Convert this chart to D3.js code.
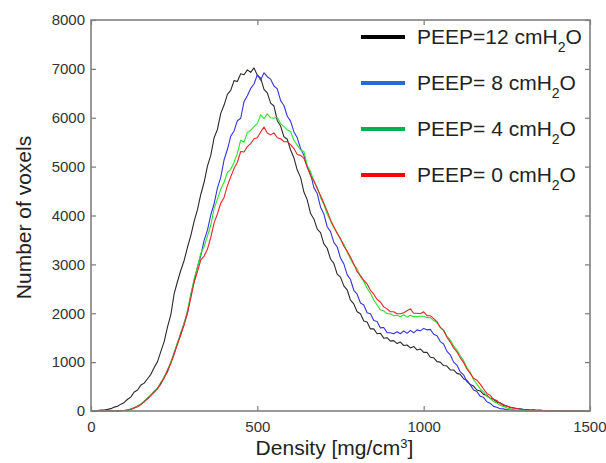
<!DOCTYPE html>
<html>
<head>
<meta charset="utf-8">
<script src="https://cdn.jsdelivr.net/npm/d3@7"></script>
<style>
  body { margin: 0; background: #fff; }
  text { font-family: "Liberation Sans", Arial, sans-serif; }
</style>
</head>
<body>
<div id="chart"></div>
<script>
// density bins (mg/cm3), one value every 10
var density = d3.range(0, 1510, 10);

var peep12 = [
  0, 4, 10, 18, 22, 34, 48, 80, 96, 140,
  176, 240, 290, 390, 430, 530, 570, 660, 750, 890,
  1010, 1220, 1420, 1720, 1970, 2400, 2650, 2880, 3080, 3350,
  3590, 3880, 4120, 4430, 4680, 5010, 5230, 5590, 5760, 6090,
  6260, 6480, 6560, 6760, 6740, 6900, 6880, 6980, 6930, 7020,
  6870, 6810, 6580, 6510, 6300, 6240, 5940, 5830, 5610, 5560,
  5340, 5180, 4930, 4780, 4480, 4320, 4040, 3930, 3720, 3650,
  3420, 3330, 3110, 3020, 2800, 2740, 2560, 2480, 2270, 2190,
  2030, 1990, 1840, 1820, 1680, 1680, 1580, 1590, 1490, 1500,
  1430, 1440, 1380, 1410, 1340, 1350, 1290, 1320, 1250, 1270,
  1200, 1200, 1100, 1090, 1010, 1000, 930, 920, 840, 840,
  770, 750, 660, 630, 540, 510, 430, 410, 340, 320,
  260, 240, 180, 170, 110, 105, 70, 68, 50, 46,
  36, 32, 22, 24, 16, 17, 10, 11, 7, 6,
  5, 3, 3, 2, 1, 1, 0, 0, 0, 0, 0
];

var peep8 = [
  0, 0, 0, 0, 0, 0, 0, 0, 2, 5,
  10, 18, 42, 66, 104, 136, 204, 250, 330, 380,
  470, 550, 700, 800, 1000, 1160, 1400, 1560, 1800, 2000,
  2380, 2660, 2950, 3180, 3490, 3700, 4010, 4240, 4560, 4780,
  5140, 5350, 5620, 5730, 5940, 5990, 6330, 6450, 6600, 6690,
  6880, 6770, 6920, 6840, 6790, 6650, 6590, 6350, 6250, 6030,
  5930, 5710, 5590, 5370, 5230, 4990, 4850, 4570, 4450, 4170,
  4030, 3770, 3670, 3450, 3360, 3130, 3010, 2790, 2690, 2470,
  2390, 2210, 2170, 2010, 1990, 1850, 1830, 1700, 1710, 1600,
  1600, 1580, 1620, 1580, 1640, 1590, 1650, 1600, 1660, 1640,
  1690, 1660, 1670, 1570, 1540, 1420, 1370, 1220, 1150, 1000,
  940, 800, 740, 600, 540, 430, 400, 300, 280, 190,
  160, 95, 78, 45, 44, 26, 22, 13, 11, 7,
  6, 4, 3, 3, 2, 2, 1, 1, 0, 0,
  0, 0, 0, 0, 0, 0, 0, 0, 0, 0, 0
];

var peep4 = [
  0, 0, 0, 0, 0, 0, 0, 0, 2, 5,
  10, 22, 38, 64, 98, 144, 196, 266, 324, 406,
  464, 590, 690, 850, 990, 1210, 1390, 1610, 1790, 2060,
  2370, 2710, 2940, 3230, 3360, 3580, 3800, 4140, 4330, 4540,
  4680, 4880, 4940, 5090, 5270, 5540, 5500, 5700, 5740, 5820,
  5880, 6060, 5980, 6080, 6000, 5990, 6010, 5880, 5820, 5750,
  5720, 5540, 5440, 5340, 5310, 5020, 4900, 4700, 4580, 4370,
  4230, 4030, 3890, 3750, 3650, 3510, 3410, 3250, 3110, 2990,
  2910, 2750, 2650, 2510, 2410, 2270, 2170, 2070, 2050, 1990,
  1990, 1950, 1960, 1930, 1970, 1920, 1960, 1930, 1930, 1940,
  1940, 1910, 1910, 1850, 1810, 1710, 1650, 1530, 1450, 1330,
  1250, 1130, 1030, 890, 790, 640, 550, 450, 390, 300,
  255, 195, 165, 115, 95, 60, 48, 28, 22, 14,
  10, 8, 6, 4, 3, 2, 2, 1, 1, 0,
  0, 0, 0, 0, 0, 0, 0, 0, 0, 0, 0
];

var peep0 = [
  0, 0, 0, 0, 0, 0, 0, 0, 2, 4,
  9, 20, 32, 62, 86, 134, 186, 256, 316, 396,
  454, 570, 670, 830, 970, 1180, 1360, 1580, 1760, 2010,
  2310, 2630, 2850, 3090, 3170, 3310, 3550, 3850, 4030, 4250,
  4370, 4610, 4790, 4960, 5090, 5310, 5300, 5410, 5470, 5570,
  5590, 5710, 5810, 5690, 5650, 5690, 5590, 5570, 5510, 5510,
  5450, 5370, 5250, 5230, 5170, 4990, 4810, 4710, 4550, 4410,
  4250, 4090, 3910, 3770, 3630, 3530, 3370, 3270, 3150, 3010,
  2850, 2770, 2670, 2600, 2470, 2390, 2280, 2230, 2130, 2090,
  2030, 2030, 1990, 1990, 2010, 2050, 2090, 2000, 2000, 1990,
  2030, 1950, 1950, 1890, 1830, 1710, 1650, 1510, 1410, 1290,
  1210, 1090, 990, 860, 770, 670, 630, 550, 450, 360,
  320, 240, 215, 150, 135, 95, 82, 55, 52, 36,
  32, 22, 21, 15, 16, 10, 11, 6, 5, 4,
  4, 3, 2, 2, 1, 1, 1, 0, 0, 0, 0
];

var xTicks = [0, 500, 1000, 1500];
var yTicks = [0, 1000, 2000, 3000, 4000, 5000, 6000, 7000, 8000];

var seriesNames = ["12", " 8", " 4", " 0"];
var seriesData = [peep12, peep8, peep4, peep0];
var lineColors = ["#2a2a2a", "#3434dc", "#2ee02e", "#e82424"];
var legendColors = ["#000000", "#1f6fcf", "#00b050", "#ff0000"];

var width = 606, height = 463;
var margin = { top: 20, right: 16, bottom: 52, left: 91 };
var w = width - margin.left - margin.right;
var h = height - margin.top - margin.bottom;

var svg = d3.select("#chart")
  .append("svg")
    .attr("width", width)
    .attr("height", height);

var g = svg.append("g")
    .attr("transform", "translate(" + margin.left + "," + margin.top + ")");

var x = d3.scaleLinear().domain([0, 1500]).range([0, w]);
var y = d3.scaleLinear().domain([0, 8000]).range([h, 0]);

// curves
var line = d3.line()
  .x(function(d, i) { return x(density[i]); })
  .y(function(d) { return y(d); });

g.selectAll("path.curve")
  .data(seriesData)
  .enter()
  .append("path")
    .attr("class", "curve")
    .attr("d", line)
    .attr("fill", "none")
    .attr("stroke", function(d, i) { return lineColors[i]; })
    .attr("stroke-width", 1.1)
    .attr("stroke-linejoin", "round");

// axes: ticks inside, on all four sides, like a matlab box
function styleAxis(sel) {
  sel.select(".domain").remove();
  sel.selectAll(".tick line").attr("stroke", "#7a7a7a").attr("stroke-width", 1.2);
  sel.selectAll(".tick text")
    .attr("fill", "#333")
    .style("font-size", "15px");
}

var xAxis = g.append("g")
    .attr("transform", "translate(0," + h + ")")
    .call(d3.axisBottom(x).tickValues(xTicks).tickSize(-5).tickPadding(10).tickFormat(d3.format("d")))
    .call(styleAxis);
// last label sits right on the window edge, pull it in a bit
xAxis.selectAll(".tick text").filter(function(d) { return d === 1500; })
    .attr("text-anchor", "end").attr("dx", "16px");

g.append("g")
    .call(d3.axisLeft(y).tickValues(yTicks).tickSize(-5).tickPadding(6).tickFormat(d3.format("d")))
    .call(styleAxis);

g.append("g")
    .call(d3.axisTop(x).tickValues(xTicks).tickSize(-5).tickFormat(""))
    .call(styleAxis);

g.append("g")
    .attr("transform", "translate(" + w + ",0)")
    .call(d3.axisRight(y).tickValues(yTicks).tickSize(-5).tickFormat(""))
    .call(styleAxis);

g.append("rect")
    .attr("width", w)
    .attr("height", h)
    .attr("fill", "none")
    .attr("stroke", "#808080")
    .attr("stroke-width", 1.6);

// axis titles
var xt = svg.append("text")
    .attr("x", margin.left + x(750) - 6)
    .attr("y", 455)
    .attr("text-anchor", "middle")
    .attr("fill", "#222")
    .style("font-size", "21px");
xt.append("tspan").text("Density [mg/cm");
xt.append("tspan").attr("baseline-shift", "super").style("font-size", "13px").text("3");
xt.append("tspan").text("]");

svg.append("text")
    .attr("transform", "translate(31," + (margin.top + h / 2 + 2) + ") rotate(-90)")
    .attr("text-anchor", "middle")
    .attr("fill", "#222")
    .style("font-size", "21px")
    .text("Number of voxels");

// legend
var legend = svg.append("g").attr("transform", "translate(361,37)");

var rows = legend.selectAll("g")
  .data(seriesNames)
  .enter()
  .append("g")
    .attr("transform", function(d, i) { return "translate(0," + (i * 46) + ")"; });

rows.append("line")
    .attr("x1", 0).attr("x2", 44)
    .attr("stroke", function(d, i) { return legendColors[i]; })
    .attr("stroke-width", 4);

var lt = rows.append("text")
    .attr("x", 56)
    .attr("y", 7)
    .attr("fill", "#222")
    .style("font-size", "21px");
lt.append("tspan").text(function(d) { return "PEEP=" + d + " cmH"; });
lt.append("tspan").attr("baseline-shift", "sub").style("font-size", "14px").text("2");
lt.append("tspan").text("O");
</script>
</body>
</html>
